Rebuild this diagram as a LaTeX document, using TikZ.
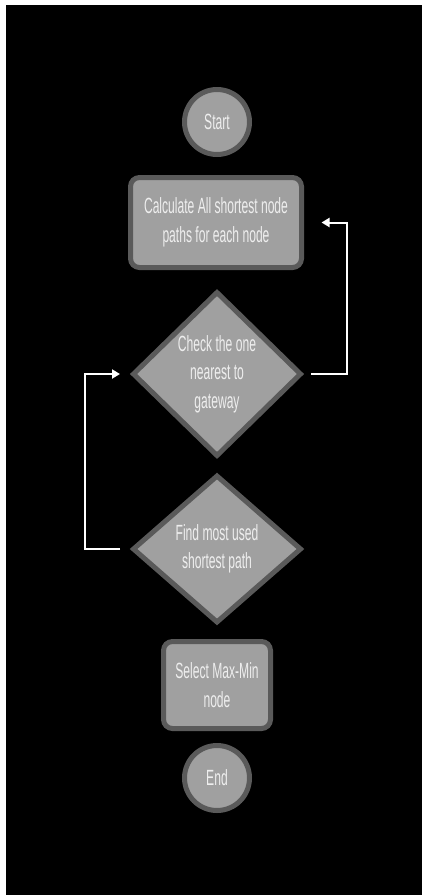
\documentclass[tikz,border=0pt]{standalone}
\usepackage{fontspec}
\setmainfont[FakeStretch=0.55]{Liberation Sans}
\usetikzlibrary{shapes.geometric,arrows.meta}
\definecolor{boxfill}{HTML}{A0A0A0}
\definecolor{boxline}{HTML}{5A5A5A}
\definecolor{labeltext}{HTML}{EEEEEE}
\begin{document}
\begin{tikzpicture}[x=1pt,y=-1pt,
  base/.style={draw=boxline, fill=boxfill, line width=5pt, text=labeltext,
    font=\fontsize{22}{28.5}\selectfont, align=center, inner sep=0pt},
  terminal/.style={base, circle, minimum size=65pt},
  process/.style={base, rectangle, rounded corners=9pt},
  decision/.style={base, diamond},
  conn/.style={draw=white, line width=2pt, -{Triangle[length=8pt,width=9pt]}}]

% page: thin white margin at top and left, black canvas
\fill[white] (0,0) rectangle (422,895);
\fill[black] (6,5) rectangle (422,895);
\useasboundingbox (0,0) rectangle (422,895);

% flow steps
\node[terminal] (start) at (217,122) {Start};
\node[process, minimum width=171pt, minimum height=90pt] (calc) at (216,222.5)
  {Calculate All shortest node\\paths for each node};
\node[decision, minimum width=169pt, minimum height=165pt] (check) at (217,374)
  {Check the one\\nearest to\\gateway};
\node[decision, minimum width=169pt, minimum height=148pt] (find) at (217,549)
  {Find most used\\shortest path};
\node[process, minimum width=107pt, minimum height=87pt] (select) at (217,685)
  {Select Max-Min\\node};
\node[terminal] (end) at (217,778) {End};

% feedback loops
\draw[conn, shorten <=7pt, shorten >=17.5pt] (check.east) -- ++(43,0) |- (calc.east);
\draw[conn, shorten <=10pt, shorten >=10pt] (find.west) -- ++(-45,0) |- (check.west);
\end{tikzpicture}
\end{document}
